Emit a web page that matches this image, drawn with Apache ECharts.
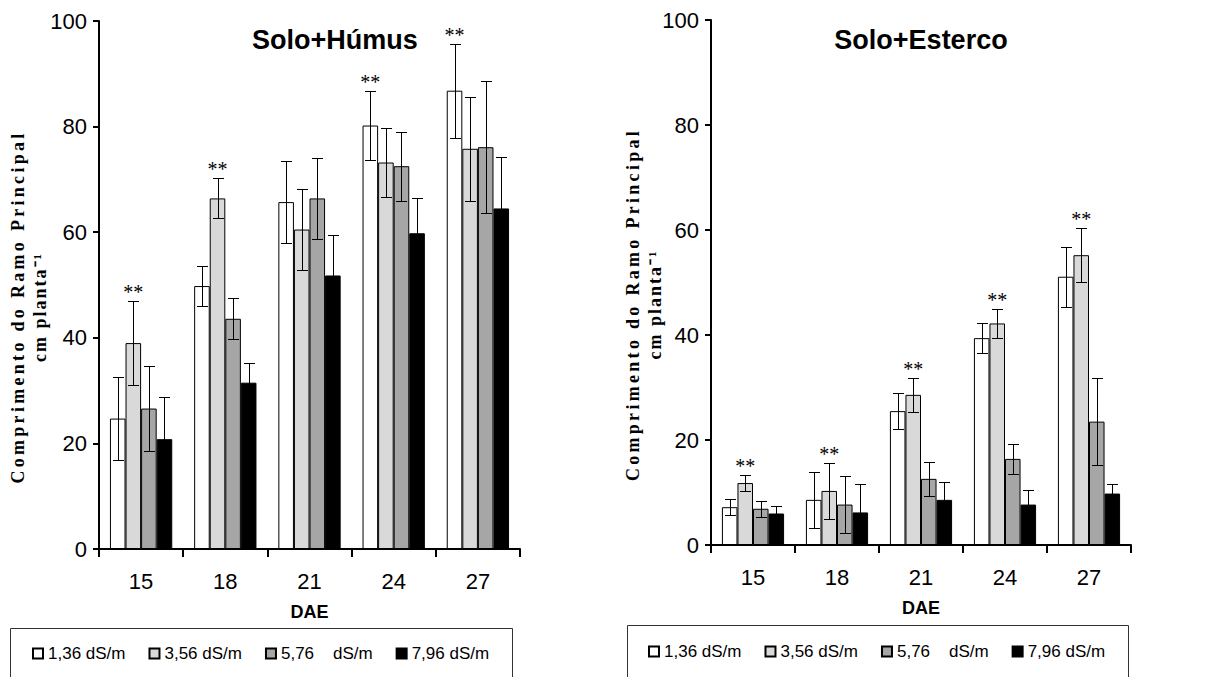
<!DOCTYPE html>
<html><head><meta charset="utf-8">
<script src="https://cdn.jsdelivr.net/npm/echarts@6/dist/echarts.min.js"></script>
<style>html,body{margin:0;padding:0;background:#fff}#c{width:1222px;height:677px}</style>
</head><body><div id="c"></div>
<script>
// ---- data ----
const categories = ['15', '18', '21', '24', '27'];
const seriesNames = ['1,36 dS/m', '3,56 dS/m', '5,76    dS/m', '7,96 dS/m'];
const chartTitles = ['Solo+Húmus', 'Solo+Esterco'];
const yAxisTitle = 'Comprimento do Ramo Principal\ncm planta⁻¹';
const xAxisTitle = 'DAE';

// Solo+Húmus means and error (+/-)
const humus136 = [24.7, 49.8, 65.7, 80.2, 86.8];
const humus356 = [39.0, 66.4, 60.5, 73.2, 75.8];
const humus576 = [26.6, 43.6, 66.4, 72.5, 76.1];
const humus796 = [20.8, 31.5, 51.8, 59.8, 64.5];
const humusErr136 = [7.9, 3.8, 7.8, 6.6, 8.9];
const humusErr356 = [8.0, 3.8, 7.6, 6.5, 9.8];
const humusErr576 = [8.0, 3.9, 7.7, 6.5, 12.5];
const humusErr796 = [8.0, 3.8, 7.7, 6.6, 9.7];
// index of the bar carrying the "**" marker per category (null = none)
const humusStars = [1, 1, null, 0, 0];

// Solo+Esterco means and error (+/-)
const esterco136 = [7.2, 8.6, 25.5, 39.4, 51.1];
const esterco356 = [11.8, 10.3, 28.6, 42.2, 55.2];
const esterco576 = [6.9, 7.7, 12.6, 16.4, 23.5];
const esterco796 = [6.0, 6.2, 8.6, 7.7, 9.8];
const estercoErr136 = [1.5, 5.4, 3.4, 2.9, 5.7];
const estercoErr356 = [1.5, 5.3, 3.2, 2.8, 5.1];
const estercoErr576 = [1.5, 5.4, 3.3, 2.9, 8.3];
const estercoErr796 = [1.4, 5.4, 3.4, 2.8, 1.8];
const estercoStars = [1, 1, 1, 1, 1];

const starText = '**';

// ---- styling / layout ----
const colors = ['#ffffff', '#d9d9d9', '#a6a6a6', '#000000'];
const GAP = 0.26;
const CAP = 11;
const SANS = 'Liberation Sans';
const SERIF = 'Liberation Serif';

const panels = [
  { vals: [humus136, humus356, humus576, humus796], errs: [humusErr136, humusErr356, humusErr576, humusErr796], stars: humusStars,
    grid: { left: 99, top: 21, width: 421, height: 528 }, nameGap: 48, titleX: 335, titleTop: 26, legendX: 32, legendTop: 645,
    box: { x: 10.5, y: 628.5, width: 502, height: 80 } },
  { vals: [esterco136, esterco356, esterco576, esterco796], errs: [estercoErr136, estercoErr356, estercoErr576, estercoErr796], stars: estercoStars,
    grid: { left: 711, top: 20, width: 420, height: 525 }, nameGap: 45, titleX: 921, titleTop: 26, legendX: 648, legendTop: 643,
    box: { x: 627.5, y: 625.5, width: 501, height: 80 } }
];

function errItem(pos) {
  return function (params, api) {
    const i = api.value(0), v = api.value(1), e = api.value(2);
    const band = api.size([1, 0])[0];
    const bw = band * (1 - GAP) / 4;
    const c = api.coord([i, v]);
    const x = Math.round(c[0] + (pos - 1.5) * bw) + 0.5;
    const yt = Math.round(api.coord([i, v + e])[1]) + 0.5;
    const yb = Math.round(api.coord([i, v - e])[1]) + 0.5;
    const h = CAP / 2;
    const st = { stroke: '#000', lineWidth: 1 };
    return { type: 'group', children: [
      { type: 'line', shape: { x1: x, y1: yt, x2: x, y2: yb }, style: st },
      { type: 'line', shape: { x1: x - h, y1: yt, x2: x + h, y2: yt }, style: st },
      { type: 'line', shape: { x1: x - h, y1: yb, x2: x + h, y2: yb }, style: st }
    ] };
  };
}
function starItem(params, api) {
  const i = api.value(0), pos = api.value(1), top = api.value(2);
  const band = api.size([1, 0])[0];
  const bw = band * (1 - GAP) / 4;
  const c = api.coord([i, top]);
  return { type: 'text', x: c[0] + (pos - 1.5) * bw, y: c[1] - 9,
    style: { text: starText, fill: '#000', font: '20px "' + SERIF + '"', align: 'center', verticalAlign: 'middle' } };
}

const grids = [], xAxes = [], yAxes = [], series = [], titles = [], legends = [], graphics = [];
panels.forEach((p, g) => {
  grids.push(Object.assign({ containLabel: false }, p.grid));
  xAxes.push({ type: 'category', gridIndex: g, data: categories,
    axisLine: { lineStyle: { color: '#000', width: 2 } },
    axisTick: { show: true, length: 8, lineStyle: { color: '#000', width: 2 } },
    axisLabel: { fontSize: 22, color: '#000', fontFamily: SANS, margin: 21 },
    name: xAxisTitle, nameLocation: 'middle', nameGap: 54, nameMoveOverlap: false,
    nameTextStyle: { fontSize: 18, fontWeight: 'bold', fontFamily: SANS, color: '#000' } });
  yAxes.push({ type: 'value', gridIndex: g, min: 0, max: 100, interval: 20,
    axisLine: { show: true, lineStyle: { color: '#000', width: 2 } },
    axisTick: { show: true, length: 6, lineStyle: { color: '#000', width: 2 } },
    splitLine: { show: false },
    axisLabel: { fontSize: 22, color: '#000', fontFamily: SANS, margin: 12 },
    name: yAxisTitle, nameLocation: 'middle', nameRotate: 90, nameGap: p.nameGap, nameMoveOverlap: false,
    nameTextStyle: { fontSize: 18, fontWeight: 'bold', fontFamily: SERIF, color: '#000', lineHeight: 22,
      padding: [0, 44, 0, 0] } });
  p.vals.forEach((vals, s) => {
    series.push({ type: 'bar', name: seriesNames[s], xAxisIndex: g, yAxisIndex: g, data: vals,
      barGap: '0%', barCategoryGap: (GAP * 100) + '%',
      itemStyle: { color: colors[s], borderColor: '#000', borderWidth: 1 } });
  });
  p.vals.forEach((vals, s) => {
    series.push({ type: 'custom', xAxisIndex: g, yAxisIndex: g, z: 5, renderItem: errItem(s),
      encode: { x: 0, y: 1 }, data: vals.map((v, i) => [i, v, p.errs[s][i]]) });
  });
  const starData = [];
  p.stars.forEach((s, i) => { if (s !== null) starData.push([i, s, p.vals[s][i] + p.errs[s][i]]); });
  series.push({ type: 'custom', xAxisIndex: g, yAxisIndex: g, z: 6, renderItem: starItem,
    encode: { x: 0, y: 2 }, data: starData });
  titles.push({ text: chartTitles[g], left: p.titleX, top: p.titleTop, textAlign: 'center', padding: 0,
    textStyle: { fontSize: 27, fontWeight: 'bold', fontFamily: SANS, color: '#000' } });
  legends.push({ left: p.legendX, top: p.legendTop, padding: 0, itemWidth: 10, itemHeight: 10, itemGap: 23,
    selectedMode: false, data: seriesNames.map(n => ({ name: n, icon: 'rect' })),
    textStyle: { fontSize: 17, fontFamily: SANS, color: '#000' } });
  graphics.push({ type: 'rect', silent: true, shape: p.box, style: { fill: 'none', stroke: '#333', lineWidth: 1 } });
});

const option = { animation: false, backgroundColor: '#fff', title: titles, legend: legends,
  grid: grids, xAxis: xAxes, yAxis: yAxes, series: series, graphic: graphics };

const dom = document.getElementById('c');
const chart = echarts.init(dom, null, { renderer: 'svg' });
chart.setOption(option);
function spaceOut() {
  dom.querySelectorAll('text').forEach(t => {
    const s = t.textContent;
    if (s.indexOf('Comprimento') >= 0) t.setAttribute('letter-spacing', '3.3px');
    else if (s.indexOf('cm planta') >= 0) t.setAttribute('letter-spacing', '2px');
  });
}
spaceOut();
requestAnimationFrame(spaceOut);
setTimeout(spaceOut, 30);
</script></body></html>
